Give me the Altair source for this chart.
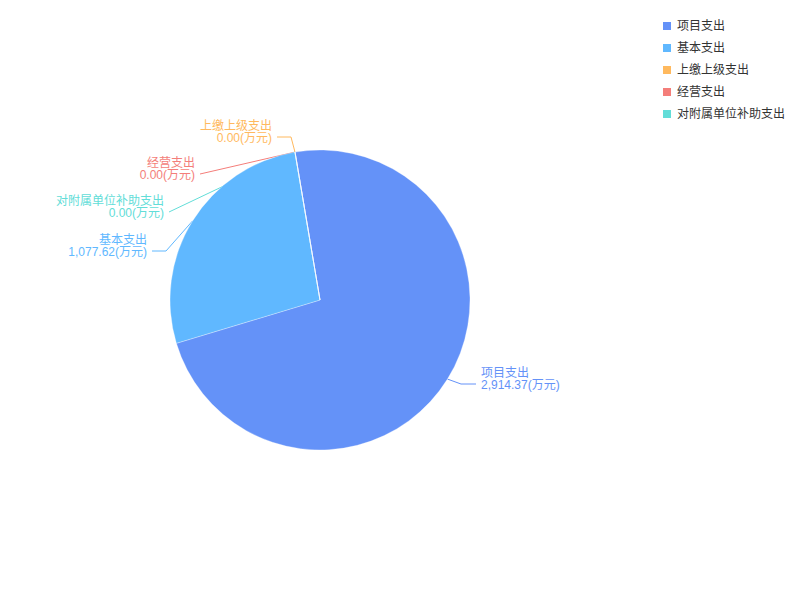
import math
import altair as alt
import pandas as pd

# ---- data ----
names = ["项目支出", "基本支出", "上缴上级支出", "经营支出", "对附属单位补助支出"]
values = [2914.37, 1077.62, 0.00, 0.00, 0.00]
colors = ["#6492F8", "#60B8FF", "#FFB95E", "#F47E7A", "#62DDD8"]
unit = "(万元)"

# ---- layout (page pixels) ----
W, H = 784, 584
OFF = 8
CX, CY = 320, 300
R = 150
START_DEG = -9.6
# elbow and end point of each leader line, label side
label_layout = {
    "项目支出": ((461, 384), (476, 384), "left"),
    "基本支出": ((166, 251), (152, 251), "right"),
    "上缴上级支出": ((291, 137), (277, 137), "right"),
    "经营支出": ((200, 174), (200, 174), "right"),
    "对附属单位补助支出": ((169, 212), (169, 212), "right"),
}
FONT = "Liberation Sans, Noto Sans CJK SC, sans-serif"

total = sum(values)
df = pd.DataFrame({"name": names, "value": values, "idx": list(range(len(names)))})

cscale = alt.Scale(domain=names, range=colors)
legend = alt.Legend(title=None, orient="none", legendX=653, legendY=12,
                    symbolType="square", symbolSize=64,
                    labelFontSize=12, labelColor="#333333",
                    labelFont=FONT, rowPadding=10, symbolStrokeWidth=0,
                    labelOffset=4)
color_enc = alt.Color("name:N", scale=cscale, legend=legend)

# leader lines and labels computed from slice angles
line_rows, label_rows = [], []
cum = 0.0
for n, v in zip(names, values):
    mid = START_DEG + (cum + v / 2) / total * 360.0
    cum += v
    a = math.radians(mid)
    ex = CX + R * math.sin(a)
    ey = CY - R * math.cos(a)
    (bx, by), (tx, ty), side = label_layout[n]
    for k, (px, py) in enumerate([(ex, ey), (bx, by), (tx, ty)]):
        line_rows.append({"name": n, "k": k, "px": px - OFF, "py": py - OFF})
    lx = tx + 5 if side == "left" else tx - 5
    label_rows.append({"name": n, "px": lx - OFF, "py": ty - OFF, "side": side,
                       "t1": n, "t2": f"{v:,.2f}{unit}"})

lines = pd.DataFrame(line_rows)
labels = pd.DataFrame(label_rows)

lines_layer = alt.Chart(lines).mark_line(strokeWidth=1).encode(
    x=alt.X("px:Q", scale=None, axis=None),
    y=alt.Y("py:Q", scale=None, axis=None),
    detail="name:N",
    order="k:Q",
    color=color_enc,
)

s = math.radians(START_DEG)
pie = alt.Chart(df).mark_arc(radius=R, stroke="white", strokeWidth=0.3).encode(
    theta=alt.Theta("value:Q", stack=True,
                    scale=alt.Scale(domain=[0, total], range=[s, s + 2 * math.pi])),
    order=alt.Order("idx:Q"),
    color=color_enc,
    x=alt.value(CX - OFF),
    y=alt.value(CY - OFF),
)

def text_layer(side, field, dy):
    return alt.Chart(labels).transform_filter(alt.datum.side == side).mark_text(
        align=side, baseline="middle", fontSize=12, font=FONT, dy=dy
    ).encode(
        x=alt.X("px:Q", scale=None, axis=None),
        y=alt.Y("py:Q", scale=None, axis=None),
        text=f"{field}:N",
        color=color_enc,
    )

texts = [text_layer(sd, f, d) for sd in ["left", "right"] for f, d in [("t1", -11), ("t2", 1)]]

chart = alt.layer(lines_layer, pie, *texts).properties(
    width=W, height=H, padding=0, background="white",
    autosize=alt.AutoSizeParams(type="none")
).configure_view(stroke=None)

chart.save("out.html", embed_options={"renderer": "svg", "actions": False})
